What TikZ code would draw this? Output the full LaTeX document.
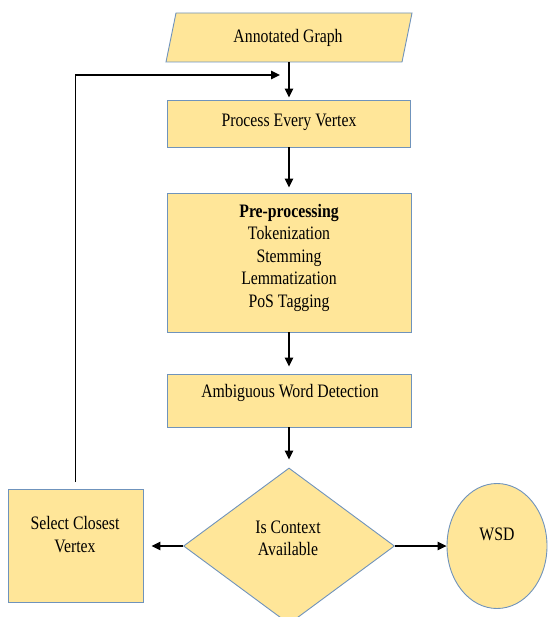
\documentclass[tikz,border=0pt]{standalone}
\usepackage{fontspec}
\setmainfont{Liberation Serif}
\usetikzlibrary{shapes.geometric,arrows.meta}

\definecolor{boxfill}{HTML}{FFE699}
\definecolor{boxline}{HTML}{6F93BC}

\tikzset{
  shapebox/.style={draw=boxline, fill=boxfill, line width=0.9pt, inner sep=0pt},
  rectbox/.style={shapebox, rectangle},
  decision/.style={shapebox, diamond},
  terminal/.style={shapebox, ellipse},
  % condensed Times-like lettering
  txt/.style={inner sep=0pt, align=center, xscale=0.83, transform shape,
    font=\fontsize{19}{22.5}\selectfont},
  flow/.style={line width=1.3pt, -{Triangle[length=9pt,width=8.5pt]}},
}

\begin{document}
\begin{tikzpicture}[x=1pt, y=-1pt]
  \useasboundingbox (0,0) rectangle (547,617);

  % input parallelogram
  \node[minimum width=237pt, minimum height=49pt, inner sep=0pt] (ag) at (289,37.5) {};
  \filldraw[draw=boxline, fill=boxfill, line width=0.9pt]
    (176,13) -- (412,13) -- (402,62) -- (166,62) -- cycle;
  \node[txt] (agT) at (288,38) {Annotated Graph};

  % processing column
  \node[rectbox, minimum width=243pt, minimum height=47pt] (pv) at (289,123.5) {};
  \node[txt] (pvT) at (289,122) {Process Every Vertex};

  \node[rectbox, minimum width=244pt, minimum height=139pt] (pp) at (289,262.5) {};
  \node[txt] (ppT) at (289,257.5) {\textbf{Pre-processing}\\Tokenization\\Stemming\\Lemmatization\\PoS Tagging};

  \node[rectbox, minimum width=244pt, minimum height=53pt] (aw) at (289,400.5) {};
  \node[txt] (awT) at (290,393) {Ambiguous Word Detection};

  % decision and outcomes
  \node[decision, minimum width=211pt, minimum height=156pt] (ca) at (289,546) {};
  \node[txt] (caT) at (288,538.5) {Is Context\\Available};

  \node[rectbox, minimum width=135pt, minimum height=113pt] (sel) at (75.5,546) {};
  \node[txt] (selT) at (75,534.5) {Select Closest\\Vertex};

  \node[terminal, minimum width=100pt, minimum height=125pt] (wsd) at (497,546) {};
  \node[txt] (wsdT) at (497,534) {WSD};

  % connectors
  \coordinate (back) at (280,75);
  \draw[flow, shorten >=2pt] (ag.south) -- (pv.north);
  \draw[flow, shorten >=5pt] (pv.south) -- (pp.north);
  \draw[flow, shorten >=7pt] (pp.south) -- (aw.north);
  \draw[flow, shorten >=8pt] (aw.south) -- (ca.north);
  \draw[flow, shorten >=8pt] (ca.west) -- (sel.east);
  \draw[flow] (ca.east) -- (wsd.west);
  \draw[flow, shorten <=7pt] (sel.north) |- (back);
\end{tikzpicture}
\end{document}
